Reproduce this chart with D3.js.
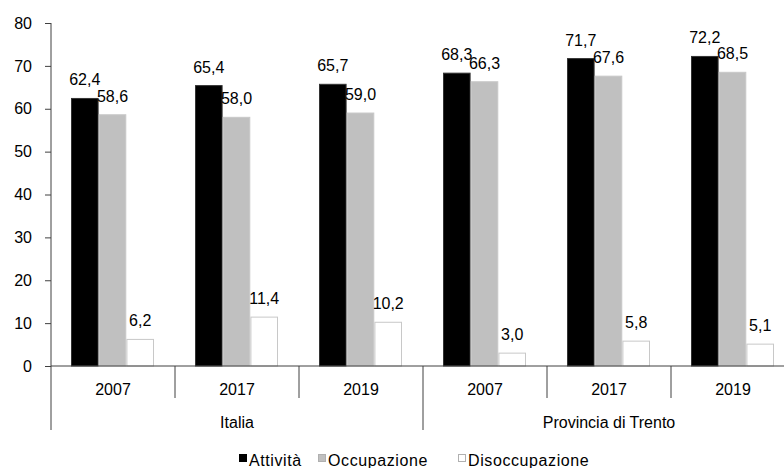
<!DOCTYPE html>
<meta charset="utf-8">
<script src="https://d3js.org/d3.v7.min.js"></script>
<style>
    body { margin: 0; background: #fff; }
    text { font-family: "Liberation Sans", Arial, sans-serif; fill: #000; }
</style>
<div id="chart"></div>
<script>

    // data
    var regions = ["Italia", "Provincia di Trento"];
    var years = ["2007", "2017", "2019"];
    var series = ["Attività", "Occupazione", "Disoccupazione"];
    var attivita = [62.4, 65.4, 65.7, 68.3, 71.7, 72.2];
    var occupazione = [58.6, 58.0, 59.0, 66.3, 67.6, 68.5];
    var disoccupazione = [6.2, 11.4, 10.2, 3.0, 5.8, 5.1];
    var yTicks = [0, 10, 20, 30, 40, 50, 60, 70, 80];

    var colors = { "Attività": "#000000", "Occupazione": "#c0c0c0", "Disoccupazione": "#ffffff" };

    // one row per category (region + year)
    var groups = [];
    regions.forEach(function (r) {
        years.forEach(function (yr) { groups.push({ region: r, year: yr, key: r + "|" + yr }); });
    });
    groups.forEach(function (g, i) {
        g.values = [
            { s: "Attività", v: attivita[i] },
            { s: "Occupazione", v: occupazione[i] },
            { s: "Disoccupazione", v: disoccupazione[i] }
        ];
    });

    var W = 784, H = 468;
    var plotLeft = 51, plotRight = 795, plotTop = 23, zero = 366;

    var svg = d3.select("#chart").append("svg")
        .attr("width", W).attr("height", H);

    var x0 = d3.scaleBand().domain(groups.map(function (d) { return d.key; }))
        .range([plotLeft, plotRight]).paddingInner(0).paddingOuter(0);
    var x1 = d3.scaleBand().domain(series)
        .range([20.5, 102.5]).paddingInner(0.04);
    var y = d3.scaleLinear().domain([0, 80]).range([zero, plotTop]);

    // y axis
    var yAxis = svg.append("g")
        .attr("transform", "translate(" + plotLeft + ",0)")
        .call(d3.axisLeft(y).tickValues(yTicks).tickSize(6).tickPadding(13).tickSizeOuter(0));
    yAxis.select(".domain").remove();
    yAxis.selectAll("line").attr("stroke", "#404040");
    yAxis.selectAll("text").style("font-size", "16px").attr("fill", "#000");
    svg.append("line")
        .attr("x1", plotLeft).attr("x2", plotLeft).attr("y1", plotTop).attr("y2", 430)
        .attr("stroke", "#404040");

    // bars
    var g = svg.selectAll(".grp").data(groups).enter().append("g")
        .attr("transform", function (d) { return "translate(" + x0(d.key) + ",0)"; });

    g.selectAll("rect").data(function (d) { return d.values; }).enter().append("rect")
        .attr("x", function (d) { return x1(d.s); })
        .attr("width", x1.bandwidth())
        .attr("y", function (d) { return y(d.v); })
        .attr("height", function (d) { return zero - y(d.v); })
        .attr("fill", function (d) { return colors[d.s]; })
        .attr("stroke", function (d) { return d.s === "Attività" ? "#333" : "#c8c8c8"; })
        .attr("stroke-width", 1);

    g.selectAll(".lbl").data(function (d) { return d.values; }).enter().append("text")
        .attr("x", function (d) { return x1(d.s) + x1.bandwidth() / 2; })
        .attr("y", function (d) { return y(d.v) - 13; })
        .attr("text-anchor", "middle")
        .style("font-size", "16px")
        .text(function (d) { return d.v.toFixed(1).replace(".", ","); });

    // category axis
    svg.append("line")
        .attr("x1", plotLeft).attr("x2", plotRight).attr("y1", zero).attr("y2", zero)
        .attr("stroke", "#404040");

    groups.forEach(function (d, i) {
        var xs = x0(d.key);
        if (i > 0) {
            var isRegionEdge = i % years.length === 0;
            svg.append("line")
                .attr("x1", xs).attr("x2", xs)
                .attr("y1", zero).attr("y2", isRegionEdge ? 430 : 398)
                .attr("stroke", "#404040");
        }
        svg.append("text")
            .attr("x", xs + x0.bandwidth() / 2)
            .attr("y", 395)
            .attr("text-anchor", "middle")
            .style("font-size", "16px")
            .text(d.year);
    });
    svg.append("line")
        .attr("x1", plotRight).attr("x2", plotRight).attr("y1", zero).attr("y2", 430)
        .attr("stroke", "#404040");

    regions.forEach(function (r) {
        var a = x0(r + "|" + years[0]);
        var b = x0(r + "|" + years[years.length - 1]) + x0.bandwidth();
        svg.append("text")
            .attr("x", (a + b) / 2)
            .attr("y", 428)
            .attr("text-anchor", "middle")
            .style("font-size", "16px")
            .text(r);
    });

    // legend
    var legendX = [239, 318, 458];
    var legend = svg.append("g");
    series.forEach(function (s, i) {
        legend.append("rect")
            .attr("x", legendX[i] + 0.5).attr("y", 454.5)
            .attr("width", 7).attr("height", 7)
            .attr("fill", colors[s])
            .attr("stroke", s === "Attività" ? "#000" : "#b0b0b0");
        legend.append("text")
            .attr("x", legendX[i] + 10)
            .attr("y", 466)
            .style("font-size", "16px")
            .style("letter-spacing", "0.6px")
            .text(s);
    });

</script>
